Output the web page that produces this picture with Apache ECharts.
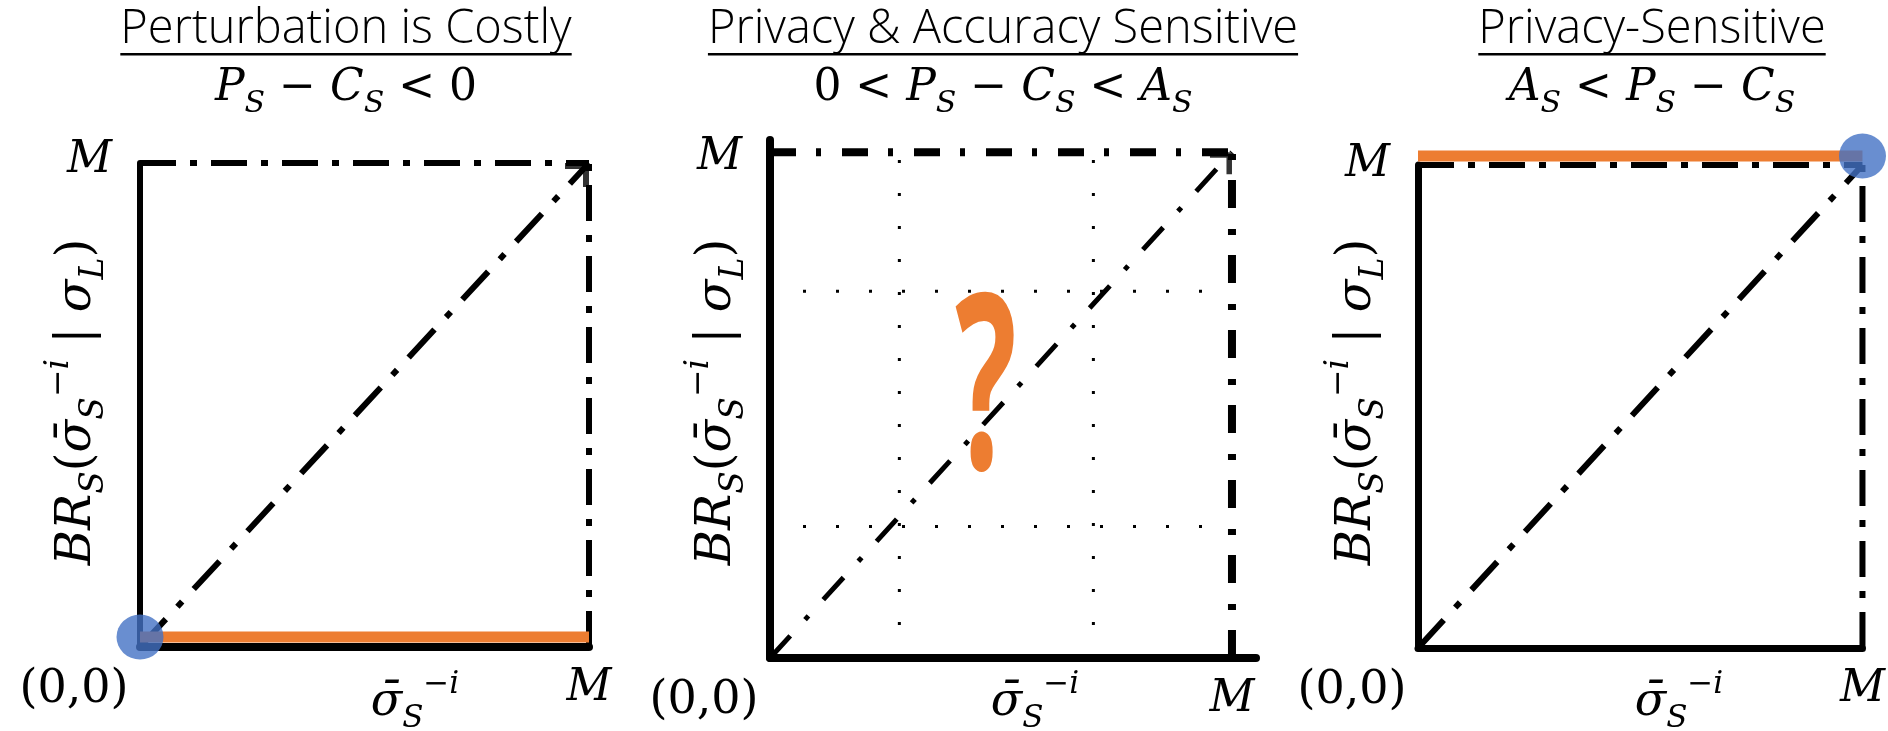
<!DOCTYPE html>
<html><head><meta charset="utf-8">
<script src="https://cdn.jsdelivr.net/npm/echarts@6/dist/echarts.min.js"></script>
<style>html,body{margin:0;padding:0;background:#fff}#c{width:1888px;height:731px}</style>
</head><body><div id="c"></div>
<script>
// ---------- data ----------
const panelTitles = ['Perturbation is Costly', 'Privacy & Accuracy Sensitive', 'Privacy-Sensitive'];
const conditions = [
  '{i|P}{s|S}{r| − }{i|C}{s|S}{r| < 0}',
  '{r|0 < }{i|P}{s|S}{r| − }{i|C}{s|S}{r| < }{i|A}{s|S}',
  '{i|A}{s|S}{r| < }{i|P}{s|S}{r| − }{i|C}{s|S}'
];
const yAxisName = '{i|BR}{s|S}{r|(}{i|σ̄}{s|S}{p|−i}{r| | }{i|σ}{s|L}{r|)}';
const xAxisName = '{i|σ̄}{s|S}{p|−i}';
const xTickValues = [0, 1];
const xTickLabels = ['(0,0)', 'M'];
const yTickValues = [1];
const yTickLabels = ['M'];
const diagonal = [[0, 0], [1, 1]];
const topEdge = [[0, 1], [1, 1]];
const rightEdge = [[1, 0], [1, 1]];
const arrowTip = [[1, 1]];
const bestResponseCostly = [[0, 0], [1, 0]];
const equilibriumCostly = [[0, 0]];
const bestResponsePrivacy = [[0, 1], [1, 1]];
const equilibriumPrivacy = [[1, 1]];
const gridXs = [0.28, 0.70];
const gridYs = [0.26, 0.725];
const questionMark = '?';

// ---------- styles ----------
const ORANGE = '#ED7D31', BLUE = '#4472C4';
const SERIF = 'DejaVu Serif';
function richSet(size) {
  const sub = Math.round(size * 0.68);
  return {
    i: {fontFamily: SERIF, fontStyle: 'italic', fontSize: size, lineHeight: size + 10, color: '#000'},
    r: {fontFamily: SERIF, fontSize: size, lineHeight: size + 10, color: '#000'},
    s: {fontFamily: SERIF, fontStyle: 'italic', fontSize: sub, lineHeight: sub, padding: [Math.round(size * 0.68), 0, 0, 0], color: '#000'},
    p: {fontFamily: SERIF, fontStyle: 'italic', fontSize: sub, lineHeight: sub, padding: [0, 0, Math.round(size * 0.78), 0], color: '#000'}
  };
}
const ARROW = 'path://M0,0 L24,0 L24,24 L18,24 L18,6 L0,6 Z';

const grids = [
  {left: 140, top: 163, width: 449, height: 484},
  {left: 770, top: 140, width: 486, height: 518},
  {left: 1418, top: 165, width: 446, height: 483}
];
const xMax = [1, 1.052, 1];
const yMax = [1, 1.024, 1];
const axisW = [[8, 6], [8, 8], [7, 7]];
const mPad = [[0, 0, 4, 0], [10, 0, 0, 0], [0, 0, 0, 0]];

function xLabelFmt(v) { const k = xTickValues.indexOf(v); return k < 0 ? '' : (xTickLabels[k] === 'M' ? '{m|M}' : '{o|' + xTickLabels[k] + '}'); }
function yLabelFmt(v) { const k = yTickValues.indexOf(v); return k < 0 ? '' : '{m|' + yTickLabels[k] + '}'; }

const xAxis = grids.map((g, i) => ({
  type: 'value', gridIndex: i, min: 0, max: xMax[i],
  axisLine: {show: true, onZero: false, lineStyle: {color: '#000', width: axisW[i][0]}},
  axisTick: {show: false}, splitLine: {show: false},
  axisLabel: {
    customValues: xTickValues, margin: 20, formatter: xLabelFmt,
    rich: {
      m: {fontFamily: SERIF, fontStyle: 'italic', fontSize: 44, color: '#000'},
      o: {fontFamily: SERIF, fontSize: 46, color: '#000', padding: [0, 132, 0, 0]}
    }
  }
}));
const yAxis = grids.map((g, i) => ({
  type: 'value', gridIndex: i, min: 0, max: yMax[i],
  axisLine: {show: true, onZero: false, lineStyle: {color: '#000', width: axisW[i][1]}},
  axisTick: {show: false}, splitLine: {show: false},
  axisLabel: {
    customValues: yTickValues, margin: 28, formatter: yLabelFmt,
    rich: {m: {fontFamily: SERIF, fontStyle: 'italic', fontSize: 44, color: '#000', padding: mPad[i]}}
  }
}));
// shifted helper axes so the orange best-response sits just beside the axis line
yAxis.push({type: 'value', gridIndex: 0, min: -0.0207, max: 0.9793, show: false});
yAxis.push({type: 'value', gridIndex: 2, min: -0.0186, max: 0.9814, show: false});

function dashLine(data, gi, width, pattern, z) {
  return {type: 'line', xAxisIndex: gi, yAxisIndex: gi, data, symbol: 'none', silent: true, z: z || 2,
    lineStyle: {color: '#000', width, type: pattern}};
}
function arrow(gi, size) {
  return {type: 'scatter', xAxisIndex: gi, yAxisIndex: gi, data: arrowTip, symbol: ARROW, symbolSize: size,
    symbolOffset: ['-50%', '50%'], itemStyle: {color: '#000'}, silent: true, z: 3};
}

const series = [];
// Panel 1
series.push(dashLine(topEdge, 0, 6, [36, 14, 7, 14]));
series.push(dashLine(rightEdge, 0, 6, [36, 14, 7, 14]));
series.push(dashLine(diagonal, 0, 6, [38, 17, 7, 17]));
series.push(arrow(0, 24));
series.push({type: 'line', xAxisIndex: 0, yAxisIndex: 3, data: bestResponseCostly, symbol: 'none', clip: false, z: 4,
  lineStyle: {color: ORANGE, width: 11}});
series.push({type: 'scatter', xAxisIndex: 0, yAxisIndex: 3, data: equilibriumCostly, symbolSize: [47, 45], clip: false, z: 5,
  itemStyle: {color: BLUE}});
// Panel 2
gridXs.forEach(x => series.push(dashLine([[x, 0], [x, 1]], 1, 3, [3, 30], 1)));
gridYs.forEach(y => series.push(dashLine([[0, y], [1, y]], 1, 3, [3, 30], 1)));
series.push(dashLine(topEdge, 1, 8, [26, 20, 5, 21]));
series.push(dashLine(rightEdge, 1, 8, [28, 20, 6, 21]));
series.push(dashLine(diagonal, 1, 5, [30, 22, 5, 22]));
series.push(arrow(1, 22));
// Panel 3
series.push(dashLine(topEdge, 2, 6, [36, 14, 7, 14]));
series.push(dashLine(rightEdge, 2, 6, [36, 14, 7, 14]));
series.push(dashLine(diagonal, 2, 6, [38, 17, 7, 17]));
series.push({type: 'line', xAxisIndex: 2, yAxisIndex: 4, data: bestResponsePrivacy, symbol: 'none', clip: false, z: 4,
  lineStyle: {color: ORANGE, width: 11}});
series.push({type: 'scatter', xAxisIndex: 2, yAxisIndex: 4, data: equilibriumPrivacy, symbolSize: [47, 45], clip: false, z: 5,
  itemStyle: {color: BLUE}});

// ---------- text graphics ----------
const TITLE_FONT = '300 47px "Open Sans"';
const measure = (() => { const c = document.createElement('canvas').getContext('2d'); return (t, f) => { c.font = f; return c.measureText(t).width; }; })();
const titleX = [346, 1003, 1652];
const yNameX = [78, 718, 1358];
const xNameX = [415, 1035, 1679];
const graphic = [];
panelTitles.forEach((t, i) => {
  const w = measure(t, TITLE_FONT);
  graphic.push({type: 'text', x: titleX[i], y: 30, style: {text: t, font: TITLE_FONT, fill: '#000', align: 'center', verticalAlign: 'middle'}});
  graphic.push({type: 'rect', shape: {x: titleX[i] - w / 2, y: 53, width: w, height: 2.5}, style: {fill: '#000'}});
  graphic.push({type: 'text', x: titleX[i], y: 89, style: {text: conditions[i], rich: richSet(44), align: 'center', verticalAlign: 'middle'}});
  graphic.push({type: 'text', x: yNameX[i], y: 402, rotation: Math.PI / 2, style: {text: yAxisName, rich: richSet(48), align: 'center', verticalAlign: 'middle'}});
  graphic.push({type: 'text', x: xNameX[i], y: 703, style: {text: xAxisName, rich: richSet(46), align: 'center', verticalAlign: 'middle'}});
});
graphic.push({type: 'text', x: 986, y: 399, scaleX: 0.58, scaleY: 1.1, style: {text: questionMark, font: '700 222px "Open Sans"', fill: ORANGE, align: 'center', verticalAlign: 'middle'}});

const chart = echarts.init(document.getElementById('c'), null, {renderer: 'canvas'});
chart.setOption({
  animation: false, backgroundColor: '#fff',
  grid: grids, xAxis, yAxis, series, graphic
});
</script></body></html>
